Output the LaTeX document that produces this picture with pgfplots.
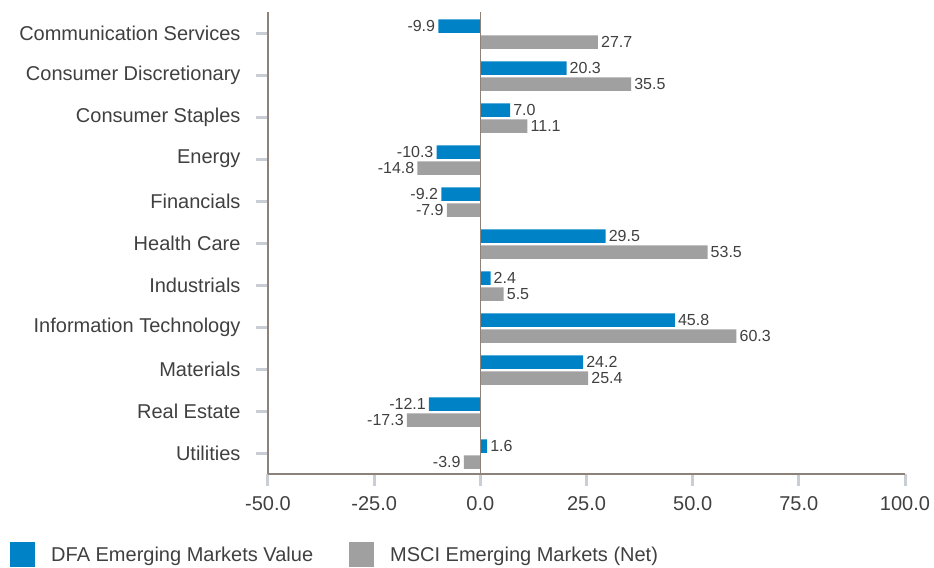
\documentclass[border=0pt]{standalone}
\usepackage{fontspec}
\setmainfont{Liberation Sans}
\usepackage{pgfplots}
\pgfplotsset{compat=1.18}
\definecolor{dfablue}{RGB}{0,130,198}
\definecolor{mscigrey}{RGB}{160,160,160}
\definecolor{axisbrown}{RGB}{140,130,122}
\definecolor{tickgrey}{RGB}{200,206,211}
\definecolor{txt}{RGB}{64,64,64}
\begin{document}
\begin{tikzpicture}
\begin{axis}[
  scale only axis, width=637pt, height=462pt,
  xbar, bar width=13.5pt, clip=false,
  xmin=-50, xmax=100, xtick={-50,-25,...,100},
  ymin=-0.5, ymax=10.5, y dir=reverse,
  ytick={0,...,10},
  yticklabels={Communication Services,Consumer Discretionary,Consumer Staples,Energy,Financials,Health Care,Industrials,Information Technology,Materials,Real Estate,Utilities},
  axis x line*=bottom, axis y line*=left,
  axis line style={axisbrown, line width=1.2pt, -},
  tick align=outside, major tick length=12pt,
  tick style={tickgrey, line width=3pt},
  every tick label/.append style={text=txt, font=\fontsize{20}{23}\selectfont},
  yticklabel style={xshift=-12pt},
  xticklabel style={yshift=-7pt, /pgf/number format/.cd, fixed, fixed zerofill, precision=1, assume math mode=true},
  point meta=x,
  nodes near coords={\pgfmathprintnumber[fixed,fixed zerofill,precision=1,assume math mode=true]{\pgfplotspointmeta}},
  nodes near coords align={horizontal},
  every node near coord/.append style={text=txt, font=\fontsize{16}{18}\selectfont, inner sep=3pt},
  legend columns=2,
  legend image code/.code={\fill[#1] (0pt,-12.5pt) rectangle (25pt,12.5pt);},
  legend style={draw=none, fill=none, at={(0,0)}, anchor=north west, xshift=-258pt, yshift=-68pt,
    inner sep=0pt, font=\fontsize{20}{23}\selectfont, text=txt,
    /tikz/every even column/.append style={column sep=36pt},
    nodes={inner sep=0pt, text depth=0pt}},
  legend cell align=left,
]
\addplot[fill=dfablue, draw=none, bar shift=7pt] coordinates {
(-9.9,0) (20.3,1) (7.0,2) (-10.3,3) (-9.2,4) (29.5,5) (2.4,6) (45.8,7) (24.2,8) (-12.1,9) (1.6,10)};
\addlegendentry{\hspace{16pt}DFA Emerging Markets Value}
\addplot[fill=mscigrey, draw=none, bar shift=-9pt] coordinates {
(27.7,0) (35.5,1) (11.1,2) (-14.8,3) (-7.9,4) (53.5,5) (5.5,6) (60.3,7) (25.4,8) (-17.3,9) (-3.9,10)};
\addlegendentry{\hspace{16pt}MSCI Emerging Markets (Net)}
\draw[axisbrown, line width=1.2pt] (axis cs:0,-0.5) -- (axis cs:0,10.5);
\end{axis}
\path (current axis.south west) ++(-268pt,-93pt) rectangle ++(934pt,567pt);
\end{tikzpicture}
\end{document}
